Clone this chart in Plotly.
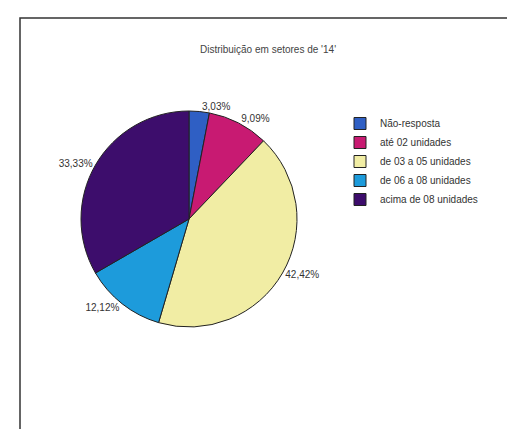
import plotly.graph_objects as go

categories = ["Não-resposta", "até 02 unidades", "de 03 a 05 unidades",
              "de 06 a 08 unidades", "acima de 08 unidades"]
counts = [1, 3, 14, 4, 11]
pct_labels = ["3,03%", "9,09%", "42,42%", "12,12%", "33,33%"]
colors = ["#2f5fc4", "#c81a72", "#f1eda4", "#1d9bdb", "#3d0d6c"]

W, H = 515, 429
fig = go.Figure()
cx, cy, r = 181, 211, 108
fig.add_trace(go.Pie(
    labels=categories, values=counts, text=pct_labels,
    texttemplate="%{text}", textposition="outside",
    sort=False, direction="clockwise", rotation=0,
    marker=dict(colors=colors, line=dict(color="#222222", width=1)),
    textfont=dict(family="Arial", size=10, color="#333333"),
    domain=dict(x=[(cx - r) / W, (cx + r) / W],
                y=[1 - (cy + r) / H, 1 - (cy - r) / H]),
    hoverinfo="label+percent",
))
fig.update_layout(
    width=W, height=H, margin=dict(l=0, r=0, t=0, b=0),
    paper_bgcolor="white", plot_bgcolor="white",
    separators=",.",
    title=dict(text="Distribuição em setores de '14'", x=260 / W, xanchor="center",
               y=1 - 41 / H, yanchor="middle",
               font=dict(family="Arial", size=10, color="#444444")),
    legend=dict(x=332 / W, y=1 - 101 / H, xanchor="left", yanchor="top",
                font=dict(family="Arial", size=10, color="#333333"),
                bgcolor="rgba(0,0,0,0)", tracegroupgap=0, itemwidth=30,
                traceorder="normal"),
    showlegend=True,
    shapes=[dict(type="rect", xref="paper", yref="paper",
                 x0=12 / W, x1=1.01, y0=-0.01, y1=1 - 10 / H,
                 line=dict(color="#333333", width=1.5))],
)
fig.write_html("out.html")
